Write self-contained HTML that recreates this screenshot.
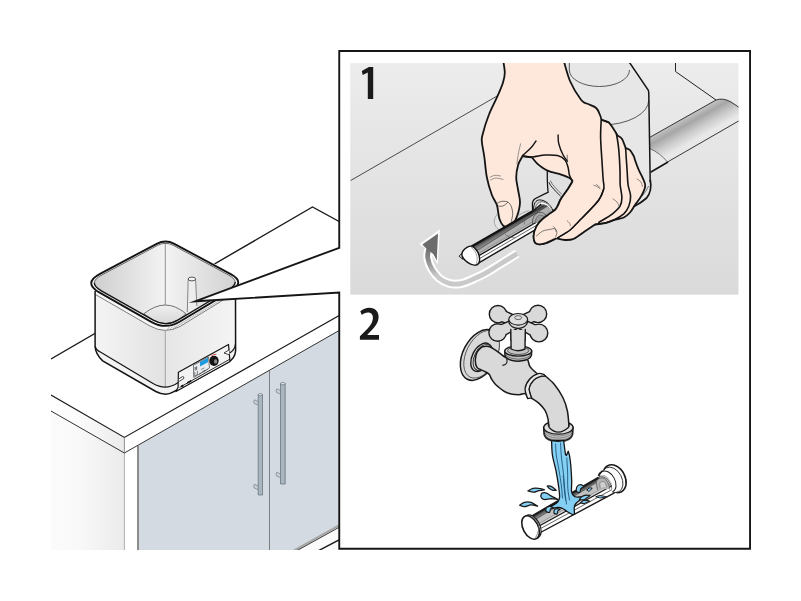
<!DOCTYPE html>
<html>
<head>
<meta charset="utf-8">
<title>Filter cleaning</title>
<style>
html,body{margin:0;padding:0;background:#fff;}
body{width:801px;height:601px;overflow:hidden;font-family:"Liberation Sans",sans-serif;}
svg{display:block;position:absolute;left:0;top:0;}
</style>
</head>
<body>
<svg width="801" height="601" viewBox="0 0 801 601">
<defs>
  <linearGradient id="gPanel" x1="0" y1="0" x2="0" y2="1">
    <stop offset="0" stop-color="#ececec"/>
    <stop offset="1" stop-color="#dadada"/>
  </linearGradient>
  <linearGradient id="gSide" x1="0" y1="0" x2="1" y2="0">
    <stop offset="0" stop-color="#fbfbfb"/>
    <stop offset="0.35" stop-color="#f9f9f9"/>
    <stop offset="1" stop-color="#ebebeb"/>
  </linearGradient>
  <linearGradient id="gPotL" x1="0" y1="0" x2="1" y2="0">
    <stop offset="0" stop-color="#f4f4f4"/>
    <stop offset="1" stop-color="#e2e2e2"/>
  </linearGradient>
  <linearGradient id="gPotR" x1="0" y1="0" x2="1" y2="0">
    <stop offset="0" stop-color="#e6e6e6"/>
    <stop offset="1" stop-color="#f4f4f4"/>
  </linearGradient>
  <linearGradient id="gInL" x1="95" y1="0" x2="165" y2="0" gradientUnits="userSpaceOnUse">
    <stop offset="0" stop-color="#cfcfcf"/>
    <stop offset="1" stop-color="#f3f3f3"/>
  </linearGradient>
  <linearGradient id="gInR" x1="165" y1="0" x2="235" y2="0" gradientUnits="userSpaceOnUse">
    <stop offset="0" stop-color="#f3f3f3"/>
    <stop offset="1" stop-color="#d2d2d2"/>
  </linearGradient>

  <linearGradient id="gTube" x1="690" y1="112" x2="703.2" y2="135.5" gradientUnits="userSpaceOnUse">
    <stop offset="0" stop-color="#cdcdcd"/>
    <stop offset="0.34" stop-color="#a6a6a6"/>
    <stop offset="0.68" stop-color="#cccccc"/>
    <stop offset="1" stop-color="#e8e8e8"/>
  </linearGradient>
  <linearGradient id="gArrow" x1="426" y1="246" x2="436" y2="276" gradientUnits="userSpaceOnUse">
    <stop offset="0" stop-color="#6c6c6c"/>
    <stop offset="0.45" stop-color="#8c8c8c"/>
    <stop offset="1" stop-color="#c9c9c9"/>
  </linearGradient>
  <linearGradient id="gFilB" x1="500" y1="230" x2="503.2" y2="235.6" gradientUnits="userSpaceOnUse">
    <stop offset="0" stop-color="#1c1c1c"/>
    <stop offset="0.25" stop-color="#4e4e4e"/>
    <stop offset="1" stop-color="#a2a2a2"/>
  </linearGradient>
  <linearGradient id="gFil" x1="0" y1="0" x2="0" y2="1">
    <stop offset="0" stop-color="#2b2b2b"/>
    <stop offset="1" stop-color="#7d7d7d"/>
  </linearGradient>

  <linearGradient id="gFilC" x1="560" y1="500" x2="562.9" y2="505" gradientUnits="userSpaceOnUse">
    <stop offset="0" stop-color="#1c1c1c"/>
    <stop offset="0.3" stop-color="#555555"/>
    <stop offset="1" stop-color="#b4b4b4"/>
  </linearGradient>

  <linearGradient id="gFloor" x1="0" y1="305" x2="0" y2="324" gradientUnits="userSpaceOnUse">
    <stop offset="0" stop-color="#f0f0f0"/>
    <stop offset="1" stop-color="#d6d6d6"/>
  </linearGradient>

  <linearGradient id="gSide2" x1="51" y1="0" x2="124.4" y2="0" gradientUnits="userSpaceOnUse">
    <stop offset="0" stop-color="#ffffff"/>
    <stop offset="0.4" stop-color="#fbfbfb"/>
    <stop offset="1" stop-color="#ebebeb"/>
  </linearGradient>
  <clipPath id="clipScene"><rect x="51" y="0" width="289" height="550"/></clipPath>
  <clipPath id="clipP1"><rect x="350.25" y="63.1" width="388.25" height="231.5"/></clipPath>
</defs>

<!-- ================= LEFT SCENE ================= -->
<g id="scene" clip-path="url(#clipScene)">
  <!-- cabinet side -->
  <polygon points="51,411 124.4,453 124.4,550 51,550" fill="url(#gSide)"/>
  <!-- cabinet front corner post -->
  <polygon points="124.4,453 137,446 137,550 124.4,550" fill="#ffffff"/>
  <!-- doors -->
  <polygon points="137,446 340,330 340,525.4 293.6,550 137,550" fill="#d3dae1"/>
  <line x1="138" y1="446" x2="138" y2="550" stroke="#8c8c8c" stroke-width="2"/>
  <line x1="124.4" y1="453" x2="124.4" y2="550" stroke="#9a9a9a" stroke-width="0.8"/>
  <line x1="269.5" y1="370.5" x2="269.5" y2="550" stroke="#555" stroke-width="0.7"/>
  <!-- handles -->
  <g id="handles" stroke-linejoin="round">
    <path d="M258,401.5 L254.5,399.8 Q253,401.5 254.3,403.5 L258,405" fill="#c9d2d9" stroke="#5f6b75" stroke-width="0.6"/>
    <path d="M258,486 L254.5,484.3 Q253,486 254.3,488 L258,489.5" fill="#c9d2d9" stroke="#5f6b75" stroke-width="0.6"/>
    <rect x="258.2" y="394.5" width="4.3" height="100.5" fill="#a9b6c0" stroke="#5f6b75" stroke-width="0.7"/>
    <ellipse cx="260.35" cy="394.6" rx="2.15" ry="1.1" fill="#d9e0e5" stroke="#5f6b75" stroke-width="0.6"/>
    <path d="M280.3,390.5 L276.8,388.8 Q275.3,390.5 276.6,392.5 L280.3,394" fill="#c9d2d9" stroke="#5f6b75" stroke-width="0.6"/>
    <path d="M280.3,474 L276.8,472.3 Q275.3,474 276.6,476 L280.3,477.5" fill="#c9d2d9" stroke="#5f6b75" stroke-width="0.6"/>
    <rect x="280.5" y="383.5" width="4.7" height="100.5" fill="#a9b6c0" stroke="#5f6b75" stroke-width="0.7"/>
    <ellipse cx="282.85" cy="383.6" rx="2.35" ry="1.2" fill="#d9e0e5" stroke="#5f6b75" stroke-width="0.6"/>
  </g>
  <!-- toe kick -->
  <polygon points="293.6,550 340,525 340,550" fill="#fbfbfb"/>
  <line x1="293.8" y1="550.6" x2="340" y2="524.9" stroke="#a4a4a4" stroke-width="2.1"/>
  <line x1="297.0" y1="550.6" x2="340" y2="526.8" stroke="#222" stroke-width="0.9"/>
  <line x1="318.6" y1="550.6" x2="340" y2="539.4" stroke="#1a1a1a" stroke-width="1.4"/>
  <!-- counter -->
  <polygon points="51,359 312.5,207 340,222 340,330 124.4,453 51,411" fill="#ffffff"/>
  <polyline points="51,359 312.5,207 340,222" fill="none" stroke="#1a1a1a" stroke-width="1.4" stroke-linejoin="miter"/>
  <polygon points="51,395 124.4,437.4 124.4,453 51,411" fill="url(#gSide2)"/>
  <polyline points="51,395 124.4,437.4 340,315" fill="none" stroke="#1a1a1a" stroke-width="1.2"/>
  <polyline points="51,411 124.4,453 340,330" fill="none" stroke="#1a1a1a" stroke-width="0.9"/>
  <line x1="124.4" y1="437.4" x2="124.4" y2="453" stroke="#777" stroke-width="0.8"/>

<path d="M95.1,291 L95.1,346.4 Q95.3,353.5 102.7,360.9 L155.8,391.5 Q165.3,396.4 172.9,392.2 L228,362.3 Q235,358.5 235.6,351 L235.5,290 L165.3,330 Z" fill="#f3f3f3"/>
<path d="M95.1,289 L95.1,346.4 Q95.8,349.6 99.5,351.6 L152.6,383.3 Q159,387.1 165.3,387.1 L165.3,327 Z" fill="url(#gPotL)"/>
<path d="M165.3,327 L165.3,387.1 Q171,387.1 177.9,382.7 L229,353.5 Q235,350 235.5,344 L235.5,289 Z" fill="url(#gPotR)"/>
<line x1="165.3" y1="331" x2="165.3" y2="387" stroke="#9a9a9a" stroke-width="0.9"/>
<path d="M95.1,346.4 Q95.8,349.6 99.5,351.6 L152.6,383.3 Q159,387.1 165.3,387.1 Q171,387.1 177.9,382.7 L229,353.5 Q235,350 235.5,344" fill="none" stroke="#141414" stroke-width="1.2"/>
<path d="M173.4,245.4 Q165.5,241.2 157.6,245.4 L101.7,275.0 Q87.1,282.7 101.4,290.9 L153.3,320.2 Q165.9,327.4 178.3,319.9 L229.1,289.5 Q241.5,282.0 228.7,275.1 Z" fill="#ededed"/>
<path d="M165.3,242.2 L157.6,245.4 L101.7,275.0 Q87.1,282.7 101.4,290.9 L143.8,313.6 Q155,305 165.3,305 Z" fill="url(#gInL)"/>
<path d="M165.3,242.2 L173.4,245.4 L228.7,275.1 Q241.5,282.0 229.1,289.5 L186.1,313.6 Q175.5,305 165.3,305 Z" fill="url(#gInR)"/>
<path d="M143.8,313.8 Q155,305 165.3,305 Q175.5,305 186.1,313.8 L178.3,319.9 Q165.9,327.4 153.3,320.2 Z" fill="url(#gFloor)" stroke="#3a3a3a" stroke-width="0.7"/>
<line x1="165.3" y1="242.7" x2="165.3" y2="305" stroke="#7a7a7a" stroke-width="0.8"/>
<path d="M188.2,279 L187.3,314 L197,308 L195.6,279 Z" fill="#ededed"/>
<path d="M188.2,279 L187.3,312" fill="none" stroke="#6a6a6a" stroke-width="0.8"/>
<path d="M195.6,279 L196.8,306" fill="none" stroke="#6a6a6a" stroke-width="0.8"/>
<ellipse cx="191.9" cy="279" rx="3.7" ry="1.9" fill="#f6f6f6" stroke="#444" stroke-width="0.9"/>
<path d="M95.1,289 L95.6,294.6 L150,326 Q165.3,334.5 180,326.5 L235.3,292.6 L235.5,287 L165.3,327 Z" fill="#f7f7f7"/>
<line x1="170.2" y1="325.7" x2="167.2" y2="329.9" stroke="#9c9c9c" stroke-width="0.7"/>
<line x1="172.9" y1="325.7" x2="169.9" y2="329.9" stroke="#9c9c9c" stroke-width="0.7"/>
<line x1="175.6" y1="325.5" x2="172.6" y2="329.7" stroke="#9c9c9c" stroke-width="0.7"/>
<line x1="178.3" y1="323.8" x2="175.3" y2="328.0" stroke="#9c9c9c" stroke-width="0.7"/>
<line x1="181.0" y1="322.2" x2="178.0" y2="326.4" stroke="#9c9c9c" stroke-width="0.7"/>
<line x1="183.7" y1="320.6" x2="180.7" y2="324.8" stroke="#9c9c9c" stroke-width="0.7"/>
<line x1="186.4" y1="319.0" x2="183.4" y2="323.2" stroke="#9c9c9c" stroke-width="0.7"/>
<line x1="189.1" y1="317.4" x2="186.1" y2="321.6" stroke="#9c9c9c" stroke-width="0.7"/>
<line x1="191.8" y1="315.7" x2="188.8" y2="319.9" stroke="#9c9c9c" stroke-width="0.7"/>
<line x1="194.5" y1="314.1" x2="191.5" y2="318.3" stroke="#9c9c9c" stroke-width="0.7"/>
<line x1="197.2" y1="312.5" x2="194.2" y2="316.7" stroke="#9c9c9c" stroke-width="0.7"/>
<line x1="199.9" y1="310.9" x2="196.9" y2="315.1" stroke="#9c9c9c" stroke-width="0.7"/>
<line x1="202.6" y1="309.3" x2="199.6" y2="313.5" stroke="#9c9c9c" stroke-width="0.7"/>
<line x1="205.3" y1="307.6" x2="202.3" y2="311.8" stroke="#9c9c9c" stroke-width="0.7"/>
<line x1="208.0" y1="306.0" x2="205.0" y2="310.2" stroke="#9c9c9c" stroke-width="0.7"/>
<line x1="210.7" y1="304.4" x2="207.7" y2="308.6" stroke="#9c9c9c" stroke-width="0.7"/>
<line x1="213.4" y1="302.8" x2="210.4" y2="307.0" stroke="#9c9c9c" stroke-width="0.7"/>
<line x1="216.1" y1="301.2" x2="213.1" y2="305.4" stroke="#9c9c9c" stroke-width="0.7"/>
<line x1="218.8" y1="299.5" x2="215.8" y2="303.7" stroke="#9c9c9c" stroke-width="0.7"/>
<line x1="221.5" y1="297.9" x2="218.5" y2="302.1" stroke="#9c9c9c" stroke-width="0.7"/>
<line x1="224.2" y1="296.3" x2="221.2" y2="300.5" stroke="#9c9c9c" stroke-width="0.7"/>
<line x1="226.9" y1="294.7" x2="223.9" y2="298.9" stroke="#9c9c9c" stroke-width="0.7"/>
<line x1="229.6" y1="293.1" x2="226.6" y2="297.3" stroke="#9c9c9c" stroke-width="0.7"/>
<line x1="232.3" y1="291.4" x2="229.3" y2="295.6" stroke="#9c9c9c" stroke-width="0.7"/>
<line x1="235.0" y1="289.8" x2="232.0" y2="294.0" stroke="#9c9c9c" stroke-width="0.7"/>
<path d="M95.6,294.6 L150,326 Q165.3,334.5 180,326.5 L235.3,292.6" fill="none" stroke="#4a4a4a" stroke-width="0.7"/>
<path d="M174.3,243.8 Q165.5,239.1 156.7,243.8 L100.0,273.8 Q82.6,283.0 99.7,292.7 L151.2,321.8 Q165.7,330.1 180.0,321.5 L231.1,290.9 Q245.6,282.1 230.7,274.1 Z" fill="none" stroke="#ffffff" stroke-width="3"/>
<path d="M235.2,282.1 Q235.1,278.6 228.7,275.1 L173.4,245.4 Q165.5,241.2 157.6,245.4 L101.7,275.0 Q94.4,278.9 94.3,282.8" fill="none" stroke="#2a2a2a" stroke-width="0.7"/>
<path d="M94.3,282.8 Q94.3,286.8 101.4,290.9 L153.3,320.2 Q165.9,327.4 178.3,319.9 L229.1,289.5 Q235.3,285.7 235.2,282.1" fill="none" stroke="#141414" stroke-width="1.4"/>
<path d="M174.3,243.8 Q165.5,239.1 156.7,243.8 L100.0,273.8 Q82.6,283.0 99.7,292.7 L151.2,321.8 Q165.7,330.1 180.0,321.5 L231.1,290.9 Q245.6,282.1 230.7,274.1 Z" fill="none" stroke="#141414" stroke-width="1.9"/>
<path d="M95.1,291 L95.1,346.4 Q95.3,353.5 102.7,360.9 L155.8,391.5 Q165.3,396.4 172.9,392.2 L228,362.3 Q235,358.5 235.6,351 L235.5,290" fill="none" stroke="#141414" stroke-width="1.5"/>
<polygon points="178.4,372.2 228.5,344.5 230,361.6 176,391.6 178.1,387.3" fill="#f3f3f3" stroke="#141414" stroke-width="1.2" stroke-linejoin="round"/>
<path d="M179.6,387.4 L229.8,359.2" stroke="#141414" stroke-width="0.9" fill="none"/>
<path d="M181.2,386.6 L183.4,385.4" stroke="#141414" stroke-width="1.8" fill="none"/>
<path d="M187.2,383 L191.2,380.8" stroke="#141414" stroke-width="1.6" fill="none"/>
<polygon points="193.5,365.2 208.5,357 209.5,368 193.7,377.5" fill="#e9edf0" stroke="#444" stroke-width="0.7"/>
<polygon points="200,362 208,357.8 208,362.3 200,366.6" fill="#1e9be0"/>
<path d="M195.2,367 L195.2,370.5 M196.6,366.3 L196.6,369.8" stroke="#222" stroke-width="0.7" fill="none"/>
<path d="M194.8,372 L194.8,376 L197.4,374.6 L197.4,370.8" stroke="#333" stroke-width="0.6" fill="none"/>
<path d="M199,374.2 L207.5,369.5" stroke="#333" stroke-width="1" stroke-dasharray="0.8 0.7" fill="none"/>
<path d="M201,369.6 L204.5,367.8 M202.5,371.6 L205,370.2" stroke="#444" stroke-width="0.6" fill="none"/>
<path d="M211.4,355.9 Q213.5,354 216.3,354.3" stroke="#e23a3a" stroke-width="0.9" fill="none"/>
<ellipse cx="214" cy="360.8" rx="4.7" ry="5.1" fill="#141414"/>
<ellipse cx="215.6" cy="361.4" rx="1.6" ry="2.2" fill="#8a8a8a"/>
<path d="M178.6,379 L182.6,376.6 Q184.6,376.6 183.6,378.6 L179.2,381.4" fill="#fff" stroke="#141414" stroke-width="0.8"/>
<path d="M229.2,349.8 L224,353 L229.4,354.8" fill="#fff" stroke="#141414" stroke-width="0.8"/>
</g>

<!-- ================= FRAME ================= -->
<polygon points="339.25,247.8 195,301.3 339.25,292.5" fill="#ffffff"/>
<rect x="339.25" y="51" width="410.8" height="497.8" fill="#ffffff" stroke="none"/>
<path d="M339.25,247.8 L339.25,51 L750.05,51 L750.05,548.8 L339.25,548.8 L339.25,292.5 L195,301.3 Z" fill="none" stroke="#161616" stroke-width="1.9" stroke-linejoin="miter" stroke-miterlimit="12"/>

<!-- ================= PANEL 1 ================= -->
<rect x="350.25" y="63.1" width="388.25" height="231.5" fill="url(#gPanel)"/>
<g id="p1" clip-path="url(#clipP1)">
<line x1="350.5" y1="180.6" x2="498" y2="95.5" stroke="#222" stroke-width="0.8"/>
<polyline points="675.5,60 675.5,71.5 716,100" fill="none" stroke="#222" stroke-width="1"/>
<path d="M650,137.2 L716,100 Q723,97.5 731,102 L740,108 L740,120.2 L667.5,162 L650,172.5 Z" fill="#e9e9e9"/>
<path d="M650,137.2 L716,100 Q723,97.5 731,102 L740,108 L740,120.2 L667.5,162 Q660,153 650,148.7 Z" fill="url(#gTube)"/>
<path d="M650,137.2 L716,100 Q723,97.5 731,102 L740,108" fill="none" stroke="#222" stroke-width="0.9"/>
<path d="M740,120.2 L667.5,162" fill="none" stroke="#222" stroke-width="0.9"/>
<path d="M650,148.7 Q660,153 667.5,162" fill="none" stroke="#444" stroke-width="0.7"/>
<path d="M668,162 L650.5,172.3" fill="none" stroke="#141414" stroke-width="1.6"/>
<path d="M560,60 L629.5,60 L629.5,62.5 L648.2,90 Q648.8,91.5 648.8,94 L650.2,182 Q651.5,191 646,197.5 L636,205.5 L600,210 Z" fill="#e7e7e7"/>
<path d="M569.3,60 L569.3,70 A30.1,16.5 0 0 0 629.5,70" fill="none" stroke="#333" stroke-width="0.8"/>
<path d="M648.8,100 A47,25 0 0 1 602,125 A47,25 0 0 1 580,122" fill="none" stroke="#333" stroke-width="0.8"/>
<path d="M629.5,60 L629.5,62.5 L648.2,90 Q648.8,91.5 648.8,94 L650.2,182" fill="none" stroke="#141414" stroke-width="1.5"/>
<path d="M650.3,180 Q652.3,191 646.6,198 Q641,203 634,206.5" fill="none" stroke="#141414" stroke-width="1.7"/>
<path d="M648.6,186 Q646,192 642,196" fill="none" stroke="#666" stroke-width="0.9"/>
<path d="M497.5,213.5 C497.0,214.6 494.6,217.9 494.3,220.0 C494.0,222.1 494.7,224.6 495.6,226.3 C496.6,228.0 498.3,229.5 500.0,230.2 C501.7,230.9 505.0,230.4 506.0,230.5" fill="#e4e4e4" stroke="#8c8c8c" stroke-width="0.7"/>
<path d="M519.0,215.0 C519.8,214.6 522.3,213.1 524.0,212.3 C525.7,211.6 528.2,210.8 529.0,210.5" fill="none" stroke="#8c8c8c" stroke-width="0.7"/>
<path d="M547.3,168 L547.3,180 Q547.6,188 548.1,192.4 L544.7,193.9 L535,198.7 Q532,201 532.4,205 L532.4,211 L545,219 L557,210 L561,199.5 L573,181 L573,168 Z" fill="#e0e0e0"/>
<path d="M547.3,170 L547.3,180 Q547.6,188 548.1,192.4 L544.7,193.9 L535,198.7 Q532,201 532.4,205 L532.6,210.5" fill="none" stroke="#141414" stroke-width="1.3"/>
<path d="M548.8,182.2 Q550.5,186 553.7,189 Q557,193 560.6,196.1" fill="none" stroke="#141414" stroke-width="0.9"/>
<path d="M550.3,180.5 Q552,184.5 555.2,187.5 Q558.5,191.5 561.8,194.2" fill="none" stroke="#444" stroke-width="0.7"/>
<path d="M560.4,199.5 Q558,203.5 557.5,207.7 L551.5,211.8" fill="none" stroke="#141414" stroke-width="1.1"/>
<path d="M533.6,210.5 C533.2,203.5 536,199.9 539.5,199.9 C545.5,199.9 551,205 553,211 L548,214 L536,213 Z" fill="#d2d2d2"/>
<path d="M533.6,210.5 C533.2,203.5 536,199.9 539.5,199.9 C545.5,199.9 551,205 553,211" fill="none" stroke="#141414" stroke-width="1"/>
<path d="M536.3,210.5 C536.6,205.6 539.6,203 543.4,203.2 C547.6,203.8 550.6,207.5 551.6,211.3" fill="none" stroke="#ffffff" stroke-width="1.7"/>
<path d="M535,210.8 C535.2,204.6 538.6,201.6 542.4,201.8 C547,202.4 551,206.6 552.3,211.2" fill="none" stroke="#333" stroke-width="0.6"/>
<path d="M537.7,211.6 C538,207.2 540.6,204.8 544,205 C547.6,205.6 549.8,208.8 550.6,212" fill="none" stroke="#141414" stroke-width="0.8"/>
<path d="M502.8,58.0 C503.1,60.4 504.7,68.4 504.8,72.5 C504.8,76.6 504.2,78.5 503.0,82.5 C501.8,86.5 499.9,90.8 497.5,96.2 C495.1,101.7 491.2,108.5 488.8,115.0 C486.2,121.5 483.6,130.5 482.5,135.0 C481.4,139.5 481.6,138.2 481.9,142.0 C482.2,145.8 483.6,151.6 484.4,157.5 C485.2,163.4 485.6,171.2 486.9,177.5 C488.1,183.8 490.2,190.4 491.9,195.0 C493.6,199.6 495.6,201.0 496.9,205.0 C498.1,209.0 498.3,215.3 499.4,218.8 C500.5,222.2 501.8,224.5 503.3,225.8 C504.8,227.1 506.5,227.2 508.2,226.8 C509.9,226.4 511.7,225.5 513.3,223.5 C514.8,221.5 516.4,218.5 517.5,215.0 C518.6,211.5 519.9,206.7 520.0,202.5 C520.1,198.3 518.7,194.2 518.1,190.0 C517.5,185.8 516.2,181.7 516.2,177.5 C516.2,173.3 517.1,168.5 518.1,165.0 C519.1,161.5 521.8,157.7 522.5,156.2 C524.1,156.4 530.3,157.1 531.9,157.3 C532.8,158.4 534.9,161.5 537.5,163.8 C540.1,166.0 543.5,168.8 547.5,170.6 C551.5,172.4 557.5,173.3 561.2,174.6 C565.0,175.9 568.1,177.1 570.0,178.2 C571.9,179.3 572.2,180.8 572.6,181.3 C571.9,182.5 570.1,185.7 568.1,188.8 C566.1,191.8 562.3,196.7 560.6,199.5 C558.9,202.3 558.9,203.6 558.0,205.3 C557.1,207.0 556.6,208.2 555.3,209.6 C554.0,210.9 552.1,211.8 550.0,213.4 C547.9,215.0 544.8,216.9 542.5,219.0 C540.2,221.1 537.9,223.4 536.4,226.2 C534.9,229.1 533.6,233.4 533.6,236.2 C533.6,239.1 534.4,242.4 536.2,243.6 C538.1,244.8 541.7,244.2 545.0,243.3 C548.3,242.4 554.4,239.1 556.2,238.3 C557.7,238.6 562.1,239.9 565.0,240.0 C567.9,240.1 570.4,240.2 573.8,238.8 C577.1,237.3 581.5,233.6 585.0,231.2 C588.5,228.9 593.3,225.7 595.0,224.6 C596.7,224.4 601.9,223.9 605.0,223.2 C608.1,222.5 610.6,221.1 613.8,220.2 C616.9,219.2 621.0,218.8 623.8,217.5 C626.5,216.2 628.1,214.6 630.0,212.5 C631.9,210.4 633.1,207.7 635.0,205.0 C636.9,202.3 639.5,199.4 641.2,196.2 C643.0,193.1 644.9,189.2 645.2,186.2 C645.5,183.3 644.2,181.5 643.1,178.8 C642.0,176.0 640.1,173.1 638.8,170.0 C637.4,166.9 635.8,162.3 635.0,160.0 C634.2,157.7 634.6,157.9 633.8,156.2 C632.9,154.6 631.4,151.6 630.0,150.2 C628.6,148.8 626.3,148.4 625.6,148.0 C625.5,147.7 625.6,147.8 625.0,146.2 C624.4,144.7 623.1,140.5 621.9,138.8 C620.6,137.0 618.2,136.1 617.5,135.6 C617.1,134.9 616.5,133.4 615.0,131.2 C613.5,129.1 611.0,124.4 608.8,122.5 C606.5,120.6 602.7,120.2 601.5,119.8 C601.2,119.0 600.9,117.0 600.0,115.0 C599.1,113.0 598.3,109.9 596.2,108.0 C594.2,106.1 590.0,105.1 587.5,103.8 C585.0,102.4 584.2,103.8 581.2,100.0 C578.3,96.2 573.0,88.0 570.0,81.0 C567.0,74.0 564.2,61.8 563.0,58.0 C553.0,58.0 512.8,58.0 502.8,58.0 Z" fill="#fde8db" stroke="#141414" stroke-width="1.8" stroke-linejoin="round"/>
<path d="M522.5,156.2 C524.2,156.4 528.8,157.1 532.5,156.9 C536.2,156.7 540.8,155.2 545.0,155.0 C549.2,154.8 554.2,154.8 557.5,155.6 C560.8,156.4 563.2,158.0 565.0,160.0 C566.8,162.0 567.4,165.0 568.1,167.5 C568.8,170.0 568.7,172.7 569.4,175.0 C570.1,177.3 572.0,180.2 572.5,181.2" fill="none" stroke="#141414" stroke-width="1.5" stroke-linecap="round"/>
<path d="M558.1,135.0 C558.2,136.5 557.9,140.4 558.8,143.8 C559.6,147.1 561.6,152.1 563.1,155.0 C564.6,157.9 566.8,160.2 567.5,161.2" fill="none" stroke="#141414" stroke-width="1.4" stroke-linecap="round"/>
<path d="M567.2,155.0 C567.3,155.8 567.3,159.2 567.3,160.0" fill="none" stroke="#444" stroke-width="0.7" stroke-linecap="round"/>
<path d="M536.0,141.0 C535.2,142.1 533.5,145.1 531.2,147.5 C529.0,149.9 524.0,154.2 522.5,155.6" fill="none" stroke="#141414" stroke-width="1.4" stroke-linecap="round"/>
<path d="M520.6,143.8 C520.2,145.3 519.1,149.7 518.5,153.0 C517.9,156.3 517.2,162.0 516.9,163.8" fill="none" stroke="#555" stroke-width="0.6" stroke-linecap="round"/>
<path d="M490.0,177.2 C490.8,176.9 493.2,175.5 495.0,175.3 C496.8,175.1 499.6,175.9 500.5,176.0" fill="none" stroke="#555" stroke-width="0.6" stroke-linecap="round"/>
<path d="M490.5,180.0 C491.4,179.7 493.9,178.1 496.0,178.0 C498.1,177.9 501.8,179.2 503.0,179.5" fill="none" stroke="#555" stroke-width="0.6" stroke-linecap="round"/>
<path d="M497.4,203.2 C497.9,202.9 499.4,201.9 500.5,201.6 C501.6,201.3 502.7,201.2 504.0,201.3 C505.3,201.4 507.1,201.4 508.3,202.3 C509.5,203.2 510.7,204.8 511.4,206.7 C512.1,208.6 512.7,211.3 512.7,213.7 C512.7,216.1 511.6,220.0 511.4,221.3" fill="none" stroke="#333" stroke-width="0.7" stroke-linecap="round"/>
<path d="M498.2,206.1 C498.9,206.1 501.4,206.4 502.6,206.1 C503.8,205.8 504.6,205.0 505.5,204.4 C506.4,203.8 507.3,202.7 507.7,202.3" fill="none" stroke="#333" stroke-width="0.7" stroke-linecap="round"/>
<path d="M601.2,120.0 C601.1,122.9 600.5,130.8 600.6,137.5 C600.7,144.2 601.5,153.1 601.9,160.0 C602.3,166.9 602.8,174.0 603.1,178.8 C603.4,183.5 604.5,185.2 603.8,188.8 C603.0,192.3 601.7,195.8 598.8,200.0 C595.8,204.2 589.6,210.2 586.2,213.8 C582.9,217.3 581.5,218.5 578.8,221.2 C576.0,224.0 573.5,227.2 570.0,230.0 C566.5,232.8 559.6,236.5 557.5,237.8" fill="none" stroke="#141414" stroke-width="1.6" stroke-linecap="round"/>
<path d="M601.9,120.0 C603.0,120.4 607.6,122.1 608.8,122.5" fill="none" stroke="#141414" stroke-width="1.6" stroke-linecap="round"/>
<path d="M616.4,133.6 C616.7,135.3 617.6,140.2 618.1,143.8 C618.6,147.3 618.9,150.6 619.2,155.0 C619.5,159.4 619.8,165.0 620.0,170.0 C620.2,175.0 619.9,180.4 620.2,185.0 C620.6,189.6 621.9,194.0 621.9,197.5 C621.9,201.0 621.6,203.5 620.0,206.2 C618.4,209.0 616.0,211.0 612.5,213.8 C609.0,216.5 601.0,221.0 598.8,222.5" fill="none" stroke="#141414" stroke-width="1.6" stroke-linecap="round"/>
<path d="M625.6,148.0 C625.7,149.6 626.0,153.5 626.2,157.5 C626.5,161.5 626.9,167.4 627.2,172.0 C627.5,176.6 627.5,181.0 628.1,185.0 C628.7,189.0 630.5,192.7 630.6,196.2 C630.7,199.8 629.9,203.3 628.8,206.2 C627.6,209.2 626.2,211.5 623.8,213.8 C621.2,216.0 616.9,218.5 613.8,220.0 C610.6,221.5 608.1,222.2 605.0,223.0 C601.9,223.8 596.7,224.2 595.0,224.5" fill="none" stroke="#141414" stroke-width="1.6" stroke-linecap="round"/>
<path d="M591.9,185.0 C592.6,185.2 594.6,185.4 596.0,186.0 C597.4,186.6 599.3,188.3 600.0,188.8" fill="none" stroke="#444" stroke-width="0.6" stroke-linecap="round"/>
<path d="M566.9,220.6 C567.3,221.0 568.9,222.1 569.5,223.0 C570.1,223.9 570.4,225.7 570.6,226.2" fill="none" stroke="#444" stroke-width="0.6" stroke-linecap="round"/>
<path d="M613.0,199.0 C613.7,199.5 615.9,200.7 617.0,202.0 C618.1,203.3 619.1,206.2 619.5,207.0" fill="none" stroke="#444" stroke-width="0.6" stroke-linecap="round"/>
<path d="M596.5,184.5 C597.1,185.0 599.4,187.0 600.0,187.5" fill="none" stroke="#444" stroke-width="0.6" stroke-linecap="round"/>
<path d="M637.0,179.0 C637.7,179.5 640.1,180.8 641.0,182.0 C641.9,183.2 642.2,185.8 642.5,186.5" fill="none" stroke="#444" stroke-width="0.6" stroke-linecap="round"/>
<path d="M517.2,253.6 C514.3,255.4 505.0,261.1 500.0,264.2 C495.0,267.3 491.2,269.9 487.0,272.3 C482.8,274.7 479.3,276.4 475.0,278.3 C470.7,280.2 465.3,282.8 461.0,283.6 C456.7,284.4 452.7,284.2 449.0,283.3 C445.3,282.4 441.9,280.5 439.0,278.0 C436.1,275.5 433.4,271.8 431.5,268.5 C429.6,265.2 428.3,261.2 427.8,258.0 C427.3,254.8 428.5,250.5 428.6,249.0" fill="none" stroke="#ffffff" stroke-width="8.8"/>
<polygon points="439.9,229.3 419.2,244.3 424.6,247.8 432.8,256.2 437.7,264.2" fill="#ffffff"/>
<path d="M517.2,253.6 C514.3,255.4 505.0,261.1 500.0,264.2 C495.0,267.3 491.2,269.9 487.0,272.3 C482.8,274.7 479.3,276.4 475.0,278.3 C470.7,280.2 465.3,282.8 461.0,283.6 C456.7,284.4 452.7,284.2 449.0,283.3 C445.3,282.4 441.9,280.5 439.0,278.0 C436.1,275.5 433.4,271.8 431.5,268.5 C429.6,265.2 428.3,261.2 427.8,258.0 C427.3,254.8 428.5,250.5 428.6,249.0" fill="none" stroke="url(#gArrow)" stroke-width="4.8"/>
<polygon points="438,233.5 422.3,244.6 426.3,248.6 433.2,253.9 436.8,260.6" fill="#6c6c6c"/>
<clipPath id="clipTube"><path d="M470,247.3 L533,211 L536,207.3 L541,205 L546,205.5 L550,208.5 L552.5,213 L554,226 L554,219.8 L470,269.0 Z"/></clipPath>
<g clip-path="url(#clipTube)">
<path d="M472.0,246.11 L553.0,199.54 L553.0,219.42 L472.0,266.80 Z" fill="#b0b0b0"/>
<path d="M472.0,246.11 L553.0,199.54 L553.0,202.54 L472.0,253.71 Z" fill="url(#gFilB)"/>
<path d="M472.0,253.71 L553.0,202.54" stroke="#3a3a3a" stroke-width="0.7" fill="none"/>
<path d="M472.0,257.29 L553.0,210.27 L553.0,212.56 L472.0,259.67 Z" fill="#c4c4c4"/>
<path d="M472.0,257.29 L553.0,210.27" stroke="#6a6a6a" stroke-width="0.5" fill="none"/>
<path d="M472.0,259.67 L553.0,212.56 L553.0,219.42 L472.0,266.80 Z" fill="#ffffff"/>
<path d="M472.0,259.67 L553.0,212.56" stroke="#141414" stroke-width="1.3" fill="none"/>
<path d="M472.0,262.98 L553.0,215.74" stroke="#222" stroke-width="0.7" fill="none"/>
</g>
<path d="M478.0,263.29 L553.0,219.42" stroke="#141414" stroke-width="1.4" fill="none"/>
<path d="M471.5,246.4 L533,211" stroke="#141414" stroke-width="2.3" fill="none"/>
<path d="M533,211 L541.3,204.2" stroke="#141414" stroke-width="1.5" fill="none"/>
<path d="M532.5,225 Q531.5,215.5 538.5,212.5 Q544.5,211.5 546.5,217" stroke="#444" stroke-width="0.8" fill="none"/>
<path d="M535.5,223.5 Q535,217 539.5,215 Q543.2,214.4 544.4,217.8" stroke="#6a6a6a" stroke-width="0.8" fill="#9c9c9c"/>
<path d="M504.5,233.5 Q508,238 515,237.5" stroke="#5a5a5a" stroke-width="0.6" fill="none"/>
<path d="M524,217.5 L524.3,224.5" stroke="#5a5a5a" stroke-width="0.6" fill="none"/>
<path d="M462.2,252.8 L459.1,256.2 L462.8,259.3 Z" fill="#d8d8d8" stroke="#141414" stroke-width="0.9" stroke-linejoin="round"/>
<path d="M472.0,246.3 C470.4,245.8 468.4,246.6 467.0,247.3 C465.6,248.0 464.2,249.3 463.3,250.5 C462.4,251.7 461.8,253.2 461.8,254.5 C461.8,255.8 462.5,257.1 463.5,258.5 C464.5,259.9 466.4,261.5 468.0,262.6 C469.6,263.7 471.4,264.6 473.0,264.9 C474.6,265.2 476.2,265.2 477.3,264.6 C478.4,264.0 479.1,262.9 479.4,261.5 C479.7,260.1 479.6,257.8 479.2,256.0 C478.8,254.2 478.0,252.1 476.8,250.5 C475.6,248.9 473.6,246.8 472.0,246.3 Z" fill="#ffffff" stroke="#141414" stroke-width="1.4"/>
<path d="M470.8,247.0 C471.5,247.8 473.9,249.7 475.0,251.5 C476.1,253.3 477.0,255.9 477.2,258.0 C477.4,260.1 476.4,263.2 476.2,264.2" fill="none" stroke="#666" stroke-width="0.6"/>
<path d="M572.6,181.3 C571.9,182.5 570.1,185.7 568.1,188.8 C566.1,191.8 562.3,196.7 560.6,199.5 C558.9,202.3 558.9,203.6 558.0,205.3 C557.1,207.0 556.6,208.2 555.3,209.6 C554.0,210.9 552.1,211.8 550.0,213.4 C547.9,215.0 544.8,216.9 542.5,219.0 C540.2,221.1 537.9,223.4 536.4,226.2 C534.9,229.1 533.6,233.4 533.6,236.2 C533.6,239.1 534.4,242.4 536.2,243.6 C538.1,244.8 541.7,244.2 545.0,243.3 C548.3,242.4 554.4,239.1 556.2,238.3 L570,230 L590,208 L600,196 L590,180 Z" fill="#fde8db"/>
<path d="M572.6,181.3 C571.9,182.5 570.1,185.7 568.1,188.8 C566.1,191.8 562.3,196.7 560.6,199.5 C558.9,202.3 558.9,203.6 558.0,205.3 C557.1,207.0 556.6,208.2 555.3,209.6 C554.0,210.9 552.1,211.8 550.0,213.4 C547.9,215.0 544.8,216.9 542.5,219.0 C540.2,221.1 537.9,223.4 536.4,226.2 C534.9,229.1 533.6,233.4 533.6,236.2 C533.6,239.1 534.4,242.4 536.2,243.6 C538.1,244.8 541.7,244.2 545.0,243.3 C548.3,242.4 554.4,239.1 556.2,238.3" fill="none" stroke="#141414" stroke-width="1.8" stroke-linejoin="round"/>
<path d="M603.8,188.8 C602.9,190.6 601.7,195.8 598.8,200.0 C595.8,204.2 589.6,210.2 586.2,213.8 C582.9,217.3 581.5,218.5 578.8,221.2 C576.0,224.0 573.5,227.2 570.0,230.0 C566.5,232.8 559.6,236.5 557.5,237.8" fill="none" stroke="#141414" stroke-width="1.3" stroke-linecap="round"/>
<path d="M536.2,236.2 C537.3,235.4 540.2,232.4 542.5,231.2 C544.8,230.1 547.9,229.8 550.0,229.4 C552.1,229.0 553.9,228.2 555.0,228.8 C556.1,229.3 556.8,231.1 556.9,232.5 C557.0,233.9 555.8,236.2 555.6,236.9" fill="none" stroke="#444" stroke-width="0.7"/>
<path d="M553.0,226.0 C553.4,226.5 555.0,228.0 555.5,229.0 C556.0,230.0 555.9,231.5 556.0,232.0" fill="none" stroke="#444" stroke-width="0.6"/>
<path d="M566.9,220.6 C567.3,221.0 568.9,222.1 569.5,223.0 C570.1,223.9 570.4,225.7 570.6,226.2" fill="none" stroke="#444" stroke-width="0.6"/>
</g>

<!-- ================= PANEL 2 ================= -->
<g id="p2">
<ellipse cx="479.6" cy="355" rx="16.6" ry="27.2" transform="rotate(27 479.6 355)" fill="#d9d9d9" stroke="#1a1a1a" stroke-width="1.5"/>
<ellipse cx="481.6" cy="354.3" rx="15.2" ry="25.6" transform="rotate(27 481.6 354.3)" fill="#d9d9d9" stroke="#333" stroke-width="0.7"/>
<ellipse cx="481.5" cy="357.3" rx="9.3" ry="15.2" transform="rotate(27 481.5 357.3)" fill="#d9d9d9" stroke="#1a1a1a" stroke-width="1.4"/>
<ellipse cx="483" cy="357.5" rx="8.6" ry="14" transform="rotate(27 483 357.5)" fill="#d9d9d9" stroke="#222" stroke-width="0.9"/>
<path d="M481.7,347.0 C482.4,346.9 484.6,346.2 486.0,346.2 C487.4,346.2 488.3,346.0 490.4,347.0 C492.5,348.0 496.2,350.6 498.6,352.3 C501.0,354.0 502.8,355.7 505.0,357.0 C507.2,358.3 508.8,359.5 512.0,360.0 C515.2,360.5 521.4,360.0 524.0,360.0 C526.6,360.0 526.7,358.9 527.7,360.0 C528.7,361.1 528.6,364.6 530.0,366.7 C531.4,368.8 534.6,371.5 536.0,372.7 C537.4,373.9 537.8,373.6 538.2,373.8 C537.0,374.5 533.0,375.8 531.0,378.0 C529.0,380.2 526.5,383.6 526.0,387.0 C525.5,390.4 527.4,396.3 527.7,398.2 C527.3,397.4 526.7,394.3 525.4,393.7 C524.1,393.1 521.7,394.5 520.0,394.6 C518.3,394.7 516.7,394.6 515.0,394.5 C513.3,394.4 511.8,394.2 510.0,393.7 C508.2,393.2 506.3,392.5 504.5,391.5 C502.7,390.5 500.6,388.8 499.0,387.5 C497.4,386.2 496.3,385.4 495.1,384.0 C493.9,382.6 492.6,380.8 491.6,379.2 C490.6,377.6 490.3,375.6 489.3,374.4 C488.3,373.2 487.2,372.8 485.8,372.0 C484.4,371.2 481.9,370.2 481.1,369.8 C480.4,369.4 478.0,369.0 477.0,367.4 C476.0,365.8 475.3,362.9 475.3,360.4 C475.3,357.9 475.9,354.5 477.0,352.3 C478.1,350.1 480.9,347.9 481.7,347.0 Z" fill="#d9d9d9" stroke="#1a1a1a" stroke-width="1.5" stroke-linejoin="round" stroke-linecap="round" />
<path d="M506.7,358.5 C506.8,359.1 507.2,361.0 507.0,362.0 C506.8,363.0 506.2,363.8 505.5,364.3 C504.8,364.9 503.2,365.1 502.7,365.3" fill="none" stroke="#1a1a1a" stroke-width="1.1" stroke-linejoin="round" stroke-linecap="round" />
<path d="M544.2,375.0 C545.8,376.5 550.9,380.2 554.0,384.0 C557.1,387.8 560.7,393.0 562.9,397.5 C565.1,402.0 566.4,406.6 567.4,411.0 C568.4,415.4 568.7,421.8 569.0,424.0 C565.6,424.2 552.0,424.8 548.6,425.0 C548.5,423.9 548.5,420.9 547.9,418.4 C547.3,415.9 546.4,412.7 544.9,410.2 C543.4,407.7 541.2,405.4 539.0,403.4 C536.8,401.4 532.7,399.1 531.4,398.2 C531.0,396.7 528.6,392.1 529.0,389.0 C529.4,385.9 531.5,381.8 534.0,379.5 C536.5,377.2 542.5,375.8 544.2,375.0 Z" fill="#d9d9d9" stroke="none" stroke-width="0" stroke-linejoin="round" stroke-linecap="round" />
<path d="M527.7,398.6 C527.3,396.9 524.7,391.8 525.1,388.5 C525.5,385.2 527.8,381.2 530.0,378.7 C532.2,376.2 535.9,374.3 538.2,373.6 C540.5,372.9 542.9,374.2 543.8,374.3 L545.2,376.2 C540.6,376.4 535.8,378.1 533.7,380.2 C531.6,382.3 529.6,385.6 529.2,388.5 C528.9,391.4 531.2,396.2 531.6,397.8 Z" fill="#e8e8e8" stroke="#1a1a1a" stroke-width="1.3" stroke-linejoin="round" stroke-linecap="round" />
<path d="M531.6,397.8 C531.2,396.2 528.9,391.4 529.2,388.5 C529.6,385.6 531.6,382.3 533.7,380.2 C535.8,378.1 540.6,376.4 542.0,375.7" fill="none" stroke="#1a1a1a" stroke-width="1.0" stroke-linejoin="round" stroke-linecap="round" />
<path d="M543.7,427 L544.2,434.5 Q546,440.8 558.4,441.8 Q570.8,440.8 572.5,434.5 L573,427 Z" fill="#c4c4c4" stroke="#1a1a1a" stroke-width="1.7" stroke-linejoin="round" stroke-linecap="round" />
<path d="M544.6,430.3 Q545.5,435.1 558.4,436.1 Q571,435.1 572.3,430.3" fill="none" stroke="#555" stroke-width="0.55" stroke-linejoin="round" stroke-linecap="round" />
<path d="M544.6,432.4 Q545.5,437.2 558.4,438.2 Q571,437.2 572.3,432.4" fill="none" stroke="#555" stroke-width="0.55" stroke-linejoin="round" stroke-linecap="round" />
<path d="M544.6,434.5 Q545.5,439.3 558.4,440.3 Q571,439.3 572.3,434.5" fill="none" stroke="#555" stroke-width="0.55" stroke-linejoin="round" stroke-linecap="round" />
<path d="M544.6,436.6 Q545.5,441.4 558.4,442.4 Q571,441.4 572.3,436.6" fill="none" stroke="#555" stroke-width="0.55" stroke-linejoin="round" stroke-linecap="round" />
<ellipse cx="558.4" cy="427.6" rx="14.6" ry="6.6" fill="#dedede" stroke="#1a1a1a" stroke-width="1.3"/>
<path d="M549.0,416 L549.3,427.5 Q558,436.8 568.5,427.3 L568.1,416 Z" fill="#d9d9d9" stroke="none" stroke-width="0" stroke-linejoin="round" stroke-linecap="round" />
<path d="M548.7,424 L549.2,427.5 Q558,437 568.6,427.3 L568.9,424" fill="none" stroke="#1a1a1a" stroke-width="1.2" stroke-linejoin="round" stroke-linecap="round" />
<path d="M544.2,375.0 C545.8,376.5 550.9,380.2 554.0,384.0 C557.1,387.8 560.7,393.0 562.9,397.5 C565.1,402.0 566.4,406.2 567.4,411.0 C568.4,415.8 568.7,423.5 569.0,426.0" fill="none" stroke="#1a1a1a" stroke-width="1.5" stroke-linejoin="round" stroke-linecap="round" />
<path d="M548.6,426.0 C548.5,424.7 548.5,421.0 547.9,418.4 C547.3,415.8 546.4,412.7 544.9,410.2 C543.4,407.7 541.2,405.4 539.0,403.4 C536.8,401.4 532.7,399.1 531.4,398.2" fill="none" stroke="#1a1a1a" stroke-width="1.5" stroke-linejoin="round" stroke-linecap="round" />
<path d="M504.7,351 L504.9,355.2 Q506,360.5 518.2,361.2 Q530.5,360.5 531.5,355.2 L531.7,351 Z" fill="#c2c2c2" stroke="#1a1a1a" stroke-width="1.4" stroke-linejoin="round" stroke-linecap="round" />
<path d="M505,353.3 Q506,358.5 518.2,359.2 Q530.5,358.5 531.4,353.3" fill="none" stroke="#444" stroke-width="0.7" stroke-linejoin="round" stroke-linecap="round" />
<ellipse cx="518.2" cy="351" rx="13.5" ry="5.2" fill="#d0d0d0" stroke="#1a1a1a" stroke-width="1.3"/>
<ellipse cx="518.2" cy="350.6" rx="10.6" ry="3.9" fill="#c4c4c4" stroke="#333" stroke-width="0.8"/>
<path d="M510.8,326 L511.1,349 Q518,352.5 525,349 L525.3,326 Z" fill="#d9d9d9" stroke="#1a1a1a" stroke-width="1.4" stroke-linejoin="round" stroke-linecap="round" />
<circle cx="498.0" cy="314.2" r="8.0" fill="#d9d9d9" stroke="#1a1a1a" stroke-width="2.8"/>
<path d="M519.8,318.6 L503.6,311.1 L499.8,320.3 L516.6,326.4 Z" fill="#d9d9d9" stroke="#1a1a1a" stroke-width="2.8" stroke-linejoin="round" stroke-linecap="round" />
<circle cx="538.0" cy="313.9" r="8.0" fill="#d9d9d9" stroke="#1a1a1a" stroke-width="2.8"/>
<path d="M519.9,326.4 L536.3,320.0 L532.4,310.9 L516.5,318.6 Z" fill="#d9d9d9" stroke="#1a1a1a" stroke-width="2.8" stroke-linejoin="round" stroke-linecap="round" />
<circle cx="498.0" cy="314.2" r="8.0" fill="#d9d9d9"/>
<path d="M519.8,318.6 L503.6,311.1 L499.8,320.3 L516.6,326.4 Z" fill="#d9d9d9" stroke="none" stroke-width="0" stroke-linejoin="round" stroke-linecap="round" />
<circle cx="538.0" cy="313.9" r="8.0" fill="#d9d9d9"/>
<path d="M519.9,326.4 L536.3,320.0 L532.4,310.9 L516.5,318.6 Z" fill="#d9d9d9" stroke="none" stroke-width="0" stroke-linejoin="round" stroke-linecap="round" />
<circle cx="497.6" cy="332.5" r="8.0" fill="#d9d9d9" stroke="#1a1a1a" stroke-width="2.8"/>
<path d="M516.4,318.7 L499.0,326.3 L503.4,335.2 L520.0,326.3 Z" fill="#d9d9d9" stroke="#1a1a1a" stroke-width="2.8" stroke-linejoin="round" stroke-linecap="round" />
<circle cx="538.9" cy="333.0" r="8.2" fill="#d9d9d9" stroke="#1a1a1a" stroke-width="2.8"/>
<path d="M516.3,326.2 L532.9,335.7 L537.5,326.6 L520.1,318.8 Z" fill="#d9d9d9" stroke="#1a1a1a" stroke-width="2.8" stroke-linejoin="round" stroke-linecap="round" />
<circle cx="497.6" cy="332.5" r="8.0" fill="#d9d9d9"/>
<path d="M516.4,318.7 L499.0,326.3 L503.4,335.2 L520.0,326.3 Z" fill="#d9d9d9" stroke="none" stroke-width="0" stroke-linejoin="round" stroke-linecap="round" />
<circle cx="538.9" cy="333.0" r="8.2" fill="#d9d9d9"/>
<path d="M516.3,326.2 L532.9,335.7 L537.5,326.6 L520.1,318.8 Z" fill="#d9d9d9" stroke="none" stroke-width="0" stroke-linejoin="round" stroke-linecap="round" />
<path d="M510.8,330 L510.9,340 L525.2,340 L525.3,330 Z" fill="#d9d9d9" stroke="none" stroke-width="0" stroke-linejoin="round" stroke-linecap="round" />
<path d="M510.8,329.5 L510.9,340" fill="none" stroke="#1a1a1a" stroke-width="1.4" stroke-linejoin="round" stroke-linecap="round" />
<path d="M525.3,329.5 L525.2,340" fill="none" stroke="#1a1a1a" stroke-width="1.4" stroke-linejoin="round" stroke-linecap="round" />
<path d="M508.8,319.5 L509,322.8 Q511,328 518.2,328.4 Q525.5,328 527.4,322.8 L527.6,319.5 Z" fill="#d9d9d9" stroke="#1a1a1a" stroke-width="1.2" stroke-linejoin="round" stroke-linecap="round" />
<ellipse cx="518.2" cy="319.3" rx="9.4" ry="5.8" fill="#dedede" stroke="#1a1a1a" stroke-width="1.1"/>
<ellipse cx="518.2" cy="317.6" rx="3.5" ry="2" fill="#dcdcdc" stroke="#333" stroke-width="0.7"/>
<ellipse cx="614.6" cy="478.7" rx="10.5" ry="14.7" transform="rotate(-28 614.6 478.7)" fill="#ffffff" stroke="#1a1a1a" stroke-width="1.6"/>
<ellipse cx="612.6" cy="479.8" rx="9.3" ry="13.5" transform="rotate(-28 612.6 479.8)" fill="#fbfbfb" stroke="#1a1a1a" stroke-width="0.8"/>
<path d="M598.2,475.6 L602.9,470.6 L608,473 L614.6,491.2 L608,495.4 L603,497.6 Z" fill="#ffffff"/>
<ellipse cx="607.6" cy="481.6" rx="7.4" ry="11.4" transform="rotate(-28 607.6 481.6)" fill="#ffffff" stroke="#1a1a1a" stroke-width="1.0"/>
<path d="M598.2,475.8 Q599.5,472.5 602.6,470.4" fill="none" stroke="#1a1a1a" stroke-width="1.2"/>
<clipPath id="clipTube2"><path d="M528,517.4 L598.2,476.7 L600.4,475 L604,475.3 L608,477.5 L611.7,483.5 L613.2,489.5 L613.6,492.6 L613.6,494.2 L528,540.2 Z"/></clipPath>
<g clip-path="url(#clipTube2)">
<path d="M531.0,516.70 L612.0,469.72 L612.0,494.10 L531.0,537.60 Z" fill="#c2c2c2"/>
<path d="M531.0,516.70 L612.0,469.72 L612.0,473.12 L531.0,521.90 Z" fill="url(#gFilC)"/>
<path d="M531.0,522.10 L612.0,473.32" stroke="#3a3a3a" stroke-width="0.7" fill="none"/>
<path d="M531.0,527.98 L612.0,482.89 L612.0,485.81 L531.0,530.49 Z" fill="#d2d2d2"/>
<path d="M531.0,527.98 L612.0,482.89" stroke="#6a6a6a" stroke-width="0.5" fill="none"/>
<path d="M531.0,530.49 L612.0,485.81 L612.0,494.10 L531.0,537.60 Z" fill="#ffffff"/>
<path d="M531.0,530.49 L612.0,485.81" stroke="#1a1a1a" stroke-width="1.2" fill="none"/>
<path d="M531.0,533.73 L612.0,489.59" stroke="#222" stroke-width="0.7" fill="none"/>
<path d="M599.5,470 L616,470 L616,480.7 L599.5,489.8 Z" fill="#cdcdcd"/>
<path d="M599.6,476.4 Q604,476.6 607.4,479 Q610.6,483 611.9,488.6" fill="none" stroke="#444" stroke-width="0.7" stroke-linejoin="round" stroke-linecap="round" />
<path d="M597.5,489.5 C597.3,488.2 596.1,483.9 596.4,482.0 C596.7,480.1 598.1,479.0 599.5,478.4 C600.9,477.8 603.0,477.7 604.5,478.6 C606.0,479.5 607.6,482.3 608.5,484.0 C609.4,485.7 609.4,488.2 609.6,489.0" fill="#b4b4b4" stroke="#555" stroke-width="0.8" stroke-linejoin="round" stroke-linecap="round" />
<path d="M600.2,488.0 C600.1,487.2 599.5,484.5 599.8,483.4 C600.1,482.3 601.1,481.5 602.0,481.4 C602.9,481.3 604.2,481.8 605.0,482.6 C605.8,483.5 606.3,485.9 606.6,486.5" fill="#cfcfcf" stroke="#777" stroke-width="0.8" stroke-linejoin="round" stroke-linecap="round" />
</g>
<path d="M540.5,532.50 L614.4,492.82" stroke="#1a1a1a" stroke-width="1.4" fill="none"/>
<path d="M532.2,516.00 L598.4,477.60" stroke="#1a1a1a" stroke-width="2.0" fill="none"/>
<ellipse cx="532.4" cy="526.4" rx="7.4" ry="12.4" transform="rotate(-28 532.4 526.4)" fill="#ffffff" stroke="#1a1a1a" stroke-width="1.2"/>
<ellipse cx="530.6" cy="527.5" rx="7.5" ry="12.6" transform="rotate(-28 530.6 527.5)" fill="#ffffff" stroke="#1a1a1a" stroke-width="1.6"/>
<path d="M533.5,517.3 C534.1,518.0 536.3,519.8 537.2,521.5 C538.1,523.2 538.6,525.5 538.7,527.5 C538.8,529.5 538.1,531.9 537.6,533.5 C537.1,535.1 535.9,536.8 535.6,537.4" fill="none" stroke="#555" stroke-width="0.7" stroke-linejoin="round" stroke-linecap="round" />
<path d="M551.6,440.5 C551.7,442.9 551.7,450.0 552.4,455.0 C553.1,460.0 555.0,465.5 556.0,470.7 C557.0,475.9 558.0,482.0 558.6,486.4 C559.2,490.8 559.8,494.4 559.6,497.0 C559.4,499.6 558.8,500.8 557.6,502.2 C556.4,503.6 554.3,504.4 552.5,505.5 C550.7,506.6 547.9,508.2 547.0,508.7 C548.0,508.6 551.2,508.2 553.0,508.0 C554.8,507.8 556.4,507.4 558.0,507.5 C559.6,507.6 561.2,507.8 562.7,508.5 C564.2,509.2 565.4,510.5 567.0,511.5 C568.6,512.5 571.7,514.1 572.6,514.6 C572.9,514.5 574.3,514.3 574.6,514.2 C574.5,513.2 574.1,509.7 574.2,508.0 C574.4,506.3 574.5,505.3 575.5,504.0 C576.5,502.7 577.7,501.4 580.0,500.0 C582.3,498.6 587.9,496.2 589.5,495.4 C587.9,495.7 582.5,496.8 580.0,497.0 C577.5,497.2 575.9,497.3 574.5,496.5 C573.1,495.7 572.1,494.6 571.6,492.0 C571.1,489.4 571.8,485.6 571.7,481.2 C571.6,476.8 571.1,469.7 570.8,465.5 C570.4,461.3 570.0,458.4 569.6,456.0 C569.2,453.6 568.4,452.0 568.2,451.2 C567.9,451.9 566.9,454.7 566.4,455.2 C565.9,455.7 565.6,454.2 565.4,454.0 C565.3,453.0 564.9,450.2 564.6,448.0 C564.3,445.8 563.8,441.8 563.6,440.5 C561.6,440.5 553.6,440.5 551.6,440.5 Z" fill="#84cff4" stroke="#141414" stroke-width="1.3" stroke-linejoin="round" stroke-linecap="round" />
<path d="M555.6,444.0 C555.7,446.0 555.8,451.7 556.4,456.0 C557.0,460.3 558.2,465.0 559.0,470.0 C559.8,475.0 560.8,481.3 561.4,486.0 C562.0,490.7 562.3,496.0 562.5,498.0" fill="none" stroke="#1f567a" stroke-width="0.9" stroke-linejoin="round" stroke-linecap="round" />
<path d="M560.5,443.0 C560.7,445.5 561.0,452.8 561.5,458.0 C562.0,463.2 562.9,468.3 563.5,474.0 C564.1,479.7 564.5,487.0 565.0,492.0 C565.5,497.0 566.2,502.0 566.5,504.0" fill="none" stroke="#1f567a" stroke-width="0.9" stroke-linejoin="round" stroke-linecap="round" />
<path d="M566.8,458.0 C566.9,460.3 567.4,467.0 567.6,472.0 C567.8,477.0 567.5,483.3 567.8,488.0 C568.1,492.7 569.2,498.0 569.5,500.0" fill="none" stroke="#1f567a" stroke-width="0.9" stroke-linejoin="round" stroke-linecap="round" />
<path d="M563.2,476.0 C563.4,478.3 564.0,486.0 564.4,490.0 C564.8,494.0 565.4,498.3 565.6,500.0" fill="none" stroke="#1f567a" stroke-width="0.9" stroke-linejoin="round" stroke-linecap="round" />
<path d="M551,440.5 Q558,443 564.5,440.3" fill="none" stroke="#1a1a1a" stroke-width="1.0" stroke-linejoin="round" stroke-linecap="round" />
<path d="M527.9,490.9 C528.8,490.5 531.1,488.7 533.0,488.3 C534.9,487.9 537.1,488.1 539.0,488.4 C540.9,488.6 543.5,489.6 544.4,489.8 C543.5,489.9 540.8,490.2 539.0,490.6 C537.2,491.0 535.4,492.1 533.5,492.2 C531.6,492.2 528.8,491.1 527.9,490.9 Z" fill="#84cff4" stroke="#1a1a1a" stroke-width="1.3" stroke-linejoin="round" stroke-linecap="round" />
<path d="M547.3,486.0 C547.8,486.0 549.4,485.8 550.5,486.2 C551.6,486.6 553.0,487.5 554.0,488.2 C555.0,488.9 555.8,490.0 556.2,490.4 C555.6,490.4 553.6,490.5 552.5,490.2 C551.4,489.9 550.3,489.3 549.4,488.6 C548.5,487.9 547.6,486.4 547.3,486.0 Z" fill="#84cff4" stroke="#1a1a1a" stroke-width="1.3" stroke-linejoin="round" stroke-linecap="round" />
<path d="M540.8,496.2 C541.0,495.7 541.0,493.7 542.0,493.2 C543.0,492.7 545.1,492.6 546.5,493.0 C547.9,493.4 548.6,494.6 550.5,495.6 C552.4,496.7 556.6,498.7 557.8,499.3 C556.7,499.2 553.0,498.6 551.0,498.6 C549.0,498.7 547.0,499.6 545.5,499.6 C544.0,499.6 542.8,499.0 542.0,498.4 C541.2,497.8 541.0,496.6 540.8,496.2 Z" fill="#84cff4" stroke="#1a1a1a" stroke-width="1.3" stroke-linejoin="round" stroke-linecap="round" />
<path d="M519.6,505.2 C520.4,504.7 522.6,502.9 524.5,502.4 C526.4,501.9 528.8,501.8 531.0,502.4 C533.2,503.0 536.5,505.5 537.6,506.1 C536.5,505.9 533.2,504.8 531.0,504.9 C528.8,505.0 526.4,506.6 524.5,506.6 C522.6,506.7 520.4,505.4 519.6,505.2 Z" fill="#84cff4" stroke="#1a1a1a" stroke-width="1.3" stroke-linejoin="round" stroke-linecap="round" />
<path d="M546.0,511.6 C546.0,511.0 545.6,508.9 546.2,508.0 C546.8,507.1 548.4,506.5 549.5,506.4 C550.6,506.3 552.4,507.2 553.0,507.4 C552.6,507.7 551.2,508.2 550.6,509.0 C550.0,509.8 550.2,512.0 549.4,512.4 C548.6,512.8 546.6,511.7 546.0,511.6 Z" fill="#84cff4" stroke="#1a1a1a" stroke-width="1.2" stroke-linejoin="round" stroke-linecap="round" />
<path d="M554.0,513.4 C554.1,512.8 553.8,510.6 554.4,509.8 C555.0,509.0 556.5,508.7 557.4,508.6 C558.3,508.5 559.6,509.3 560.0,509.4 C559.6,509.7 558.3,510.2 557.8,511.0 C557.3,511.8 557.6,513.6 557.0,514.0 C556.4,514.4 554.5,513.5 554.0,513.4 Z" fill="#84cff4" stroke="#1a1a1a" stroke-width="1.2" stroke-linejoin="round" stroke-linecap="round" />
<path d="M576.2,491.6 C576.3,490.8 576.1,488.2 576.8,487.0 C577.5,485.8 579.2,484.7 580.4,484.6 C581.6,484.5 583.6,486.1 584.2,486.4 C583.7,486.7 581.8,487.4 581.0,488.4 C580.2,489.4 580.4,491.9 579.6,492.4 C578.8,492.9 576.8,491.7 576.2,491.6 Z" fill="#84cff4" stroke="#1a1a1a" stroke-width="1.2" stroke-linejoin="round" stroke-linecap="round" />
<path d="M587.2,490.0 C587.5,489.7 588.2,488.3 589.0,488.0 C589.8,487.7 591.7,488.0 592.2,488.0 C591.9,488.4 591.0,489.7 590.4,490.2 C589.8,490.7 588.9,491.2 588.4,491.2 C587.9,491.2 587.4,490.2 587.2,490.0 Z" fill="#84cff4" stroke="#1a1a1a" stroke-width="1.0" stroke-linejoin="round" stroke-linecap="round" />
<path d="M579.4,499.4 C579.8,498.9 580.9,497.3 582.0,496.6 C583.1,495.9 584.7,495.4 586.0,495.2 C587.3,495.0 589.3,495.5 590.0,495.6 C589.5,496.0 588.1,497.1 587.0,497.8 C585.9,498.5 584.8,499.5 583.5,499.8 C582.2,500.1 580.1,499.5 579.4,499.4 Z" fill="#84cff4" stroke="#1a1a1a" stroke-width="1.2" stroke-linejoin="round" stroke-linecap="round" />
<path d="M580.6,502.6 C581.1,502.3 582.4,501.0 583.5,500.6 C584.6,500.2 585.9,500.3 587.0,500.4 C588.1,500.5 589.5,501.1 590.0,501.2 C589.4,501.4 587.7,502.2 586.6,502.6 C585.5,503.0 584.6,503.6 583.6,503.6 C582.6,503.6 581.1,502.8 580.6,502.6 Z" fill="#84cff4" stroke="#1a1a1a" stroke-width="1.1" stroke-linejoin="round" stroke-linecap="round" />
<path d="M596.2,496.8 C596.8,496.6 598.3,495.6 600.0,495.6 C601.7,495.6 605.5,496.6 606.6,496.8 C605.6,497.0 602.3,497.9 600.6,497.9 C598.9,497.9 596.9,497.0 596.2,496.8 Z" fill="#84cff4" stroke="#1a1a1a" stroke-width="1.0" stroke-linejoin="round" stroke-linecap="round" />
</g>

<!-- digits -->
<path d="M368.9,66.9 L373.2,66.9 L373.2,98.9 L367.8,98.9 L367.8,72.6 L362.7,75 L361.8,71 Z" fill="#1a1a1a"/>
<path d="M360.3,311.2 C363,309 366,307.8 369.3,307.8 C375.5,307.8 378.6,311.8 378.6,316.8 C378.6,323 374.5,327.5 368.5,333.5 L367.2,334.9 L379,334.9 L379,339.8 L359.9,339.8 L359.9,336.2 L363.5,332.8 C370,326.5 372.9,322.5 372.9,317.5 C372.9,314.5 371.3,312.4 368,312.4 C365.5,312.4 363.4,313.6 361.8,314.9 Z" fill="#1a1a1a"/>
</svg>
</body>
</html>
